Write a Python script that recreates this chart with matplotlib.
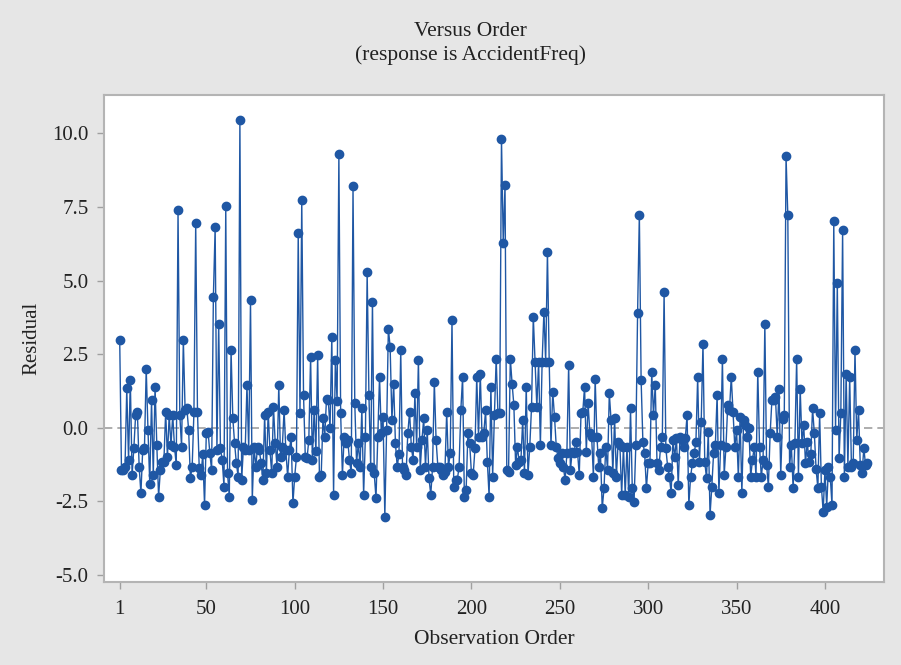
import numpy as np
import matplotlib.pyplot as plt

# residuals, in observation order (1..424)
residuals = [
    2.98, -1.44, -1.44, -1.32, 1.35, -1.10, 1.62, -1.60, -0.70, 0.43,
    0.54, -1.32, -2.23, -0.76, -0.70, 2.00, -0.08, -1.90, 0.94, -1.60,
    1.39, -0.60, -2.34, -1.44, -1.15, -1.15, 0.54, -1.00, 0.43, -0.60,
    0.43, -0.65, -1.27, 7.39, 0.43, -0.65, 2.98, 0.60, 0.66, -0.08,
    -1.72, -1.32, 0.54, 6.94, 0.54, -1.38, -1.60, -0.90, -2.63, -0.19,
    -0.13, -0.87, -1.44, 4.45, 6.82, -0.76, 3.54, -0.70, -1.10, -2.00,
    7.52, -1.55, -2.34, 2.64, 0.32, -0.53, -1.20, -1.66, 10.46, -1.78,
    -0.65, -0.76, 1.45, -0.76, 4.33, -2.45, -0.65, -1.32, -0.65, -0.76,
    -1.21, -1.78, 0.43, -1.55, 0.54, -0.76, -1.55, 0.71, -0.53, -1.32,
    1.45, -0.98, -0.65, 0.60, -0.76, -1.66, -0.76, -0.30, -2.57, -1.66,
    -1.00, 6.60, 0.49, 7.73, 1.11, -0.98, -1.04, -0.40, 2.41, -1.10,
    0.60, -0.80, 2.47, -1.66, -1.60, 0.32, -0.30, 0.99, 0.94, -0.02,
    3.09, -2.28, 2.30, 0.90, 9.29, 0.49, -1.60, -0.30, -0.53, -0.42,
    -1.10, -1.55, 8.20, 0.83, -1.20, -0.53, -1.32, 0.66, -2.28, -0.30,
    5.29, 1.11, -1.32, 4.28, -1.55, -2.40, -0.30, 1.73, -0.19, 0.37,
    -3.02, -0.08, 3.37, 2.75, 0.26, 1.50, -0.53, -1.32, -0.90, 2.64,
    -1.32, -1.44, -1.60, -0.19, 0.54, -0.65, -1.10, 1.17, -0.65, 2.30,
    -1.44, -0.42, 0.32, -1.32, -0.08, -1.72, -2.28, -1.32, 1.56, -0.42,
    -1.32, -1.32, -1.44, -1.60, -1.49, 0.54, -1.32, -0.87, 3.65, -2.00,
    -1.78, -1.78, -1.32, 0.60, 1.73, -2.34, -2.11, -0.19, -0.53, -1.55,
    -1.60, -0.70, 1.73, -0.30, 1.84, -0.30, -0.19, 0.60, -1.15, -2.34,
    1.39, -1.66, 0.43, 2.35, 0.49, 0.49, 9.82, 6.26, 8.24, -1.44,
    -1.49, 2.35, 1.50, 0.77, -1.27, -0.65, -1.15, -1.10, 0.26, -1.55,
    1.39, -1.60, -0.65, 0.71, 3.77, 2.24, 0.71, 2.24, -0.60, 2.24,
    3.94, 2.24, 5.97, 2.24, -0.60, 1.22, 0.37, -0.65, -1.04, -1.21,
    -0.87, -1.32, -1.78, -0.87, 2.13, -1.44, -0.81, -0.87, -0.48, -0.81,
    -1.60, 0.49, 0.54, 1.39, -0.81, 0.83, -0.19, -0.30, -1.66, 1.67,
    -0.30, -1.32, -0.87, -2.74, -2.06, -0.65, -1.44, 1.17, 0.26, -1.55,
    0.32, -1.66, -0.48, -0.60, -2.28, -0.65, -2.28, -0.65, -2.34, 0.66,
    -2.06, -2.51, -0.60, 3.88, 7.24, 1.62, -0.48, -0.87, -2.06, -1.21,
    -1.21, 1.90, 0.43, 1.45, -1.21, -1.44, -0.65, -0.30, 4.62, -0.70,
    -1.32, -1.66, -2.23, -0.42, -1.00, -0.36, -1.95, -0.30, -0.42, -0.65,
    -0.36, 0.43, -2.63, -1.66, -1.21, -0.87, -0.50, 1.73, -1.15, 0.20,
    2.86, -1.15, -1.72, -0.13, -2.96, -2.00, -0.87, -0.60, 1.11, -2.23,
    -0.60, 2.35, -1.60, -0.65, 0.77, 0.60, 1.73, 0.54, -0.65, -0.08,
    -1.66, 0.37, -2.23, 0.26, 0.09, -0.30, -0.02, -1.66, -1.10, -0.65,
    -1.66, 1.90, -0.65, -1.66, -1.10, 3.54, -1.27, -2.00, -0.19, 0.94,
    0.94, 1.05, -0.30, 1.33, -1.60, 0.30, 0.43, 9.22, 7.22, -1.32,
    -0.60, -2.06, -0.53, 2.35, -1.66, 1.33, -0.53, 0.09, -1.21, -0.48,
    -1.15, -0.90, 0.66, -0.19, -1.40, -2.06, 0.49, -2.00, -2.85, -1.44,
    -2.68, -1.32, -1.66, -2.63, 7.03, -0.08, 4.92, -1.04, 0.49, 6.71,
    -1.66, 1.84, -1.32, 1.73, -1.32, -1.21, 2.64, -0.42, 0.60, -1.27,
    -1.55, -0.70, -1.27, -1.21,
]
order = np.arange(1, len(residuals) + 1)

xticks = [1, 50, 100, 150, 200, 250, 300, 350, 400]
yticks = [-5.0, -2.5, 0.0, 2.5, 5.0, 7.5, 10.0]

blue = '#1f57a4'
plt.rcParams['font.family'] = ['Liberation Serif', 'DejaVu Serif']

fig = plt.figure(figsize=(9.01, 6.65), dpi=100, facecolor='#e6e6e6')
ax = fig.add_axes([0.1154, 0.1248, 0.8655, 0.7323])
ax.set_facecolor('white')

ax.axhline(0, color='#a0a0a0', linestyle=(0, (5, 3)), linewidth=1.2, zorder=1)
ax.plot(order, residuals, color=blue, linewidth=1.0, zorder=2)
ax.plot(order, residuals, 'o', color=blue, markersize=6, zorder=3)

ax.set_xlim(-7.9, 433.3)
ax.set_ylim(-5.24, 11.3)
ax.set_xticks(xticks)
ax.set_yticks(yticks)
ax.set_yticklabels([f"{v:.1f}" for v in yticks])

for sp in ax.spines.values():
    sp.set_color('#b4b4b4')
    sp.set_linewidth(1.5)
ax.tick_params(direction='out', length=5, width=1, color='#a0a0a0',
               labelsize=15, labelcolor='#222222', pad=6)
ax.tick_params(axis='x', pad=8)

ax.set_xlabel("Observation Order", fontsize=15.5, color='#222222', labelpad=8)
ax.set_ylabel("Residual", fontsize=15, color='#222222', labelpad=8)

fig.text(0.522, 0.952, "Versus Order", ha='center', va='center', fontsize=15.5, color='#222222')
fig.text(0.522, 0.917, "(response is AccidentFreq)", ha='center', va='center', fontsize=15.5, color='#222222')

fig.savefig("out.png", dpi=100, facecolor=fig.get_facecolor())
